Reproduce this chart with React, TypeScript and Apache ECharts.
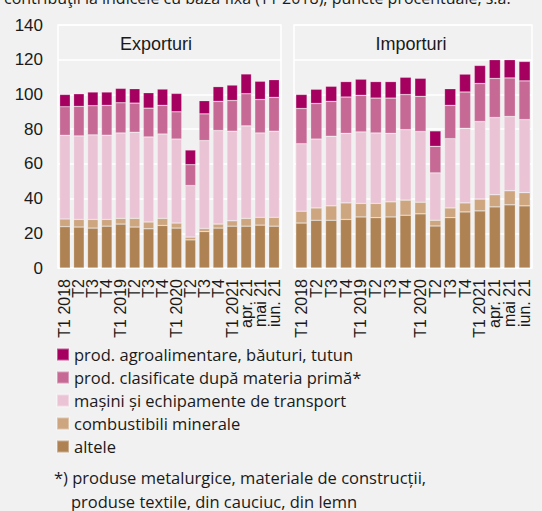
import React, { useEffect, useRef } from "react";
import * as echarts from "echarts";

const tickLabels = ["T1 2018", "T2", "T3", "T4", "T1 2019", "T2", "T3", "T4", "T1 2020", "T2", "T3", "T4", "T1 2021", "apr. 21", "mai 21", "iun. 21"];
const yTicks = [0, 20, 40, 60, 80, 100, 120, 140];

const seriesNames = [
  "altele",
  "combustibili minerale",
  "mașini și echipamente de transport",
  "prod. clasificate după materia primă*",
  "prod. agroalimentare, băuturi, tutun",
];
const legendOrder = [
  "prod. agroalimentare, băuturi, tutun",
  "prod. clasificate după materia primă*",
  "mașini și echipamente de transport",
  "combustibili minerale",
  "altele",
];
const colors = ["#ae8252", "#cda57f", "#eac4d5", "#c66a95", "#a5005f"];

// Exporturi
const expAltele = [23.8, 23.6, 23.0, 24.1, 25.3, 23.6, 22.6, 24.5, 23.0, 16.2, 21.0, 23.0, 24.1, 24.1, 24.7, 24.1];
const expComb = [4.4, 4.4, 5.0, 3.9, 3.3, 5.0, 3.9, 4.1, 2.9, 1.6, 1.8, 2.3, 3.1, 4.5, 4.5, 5.1];
const expMasini = [48.3, 48.1, 48.7, 48.5, 49.2, 49.6, 49.0, 48.6, 48.4, 29.7, 50.6, 53.9, 51.6, 53.3, 48.6, 49.6];
const expClas = [16.4, 17.0, 16.8, 17.2, 17.4, 16.8, 16.6, 16.5, 15.7, 12.0, 15.4, 16.8, 17.7, 18.5, 19.3, 19.5];
const expAgro = [7.1, 7.3, 7.9, 7.7, 8.3, 8.3, 8.9, 9.4, 10.6, 8.5, 7.6, 8.5, 8.9, 11.4, 10.5, 10.2];

// Importuri
const impAltele = [25.9, 27.5, 27.5, 28.0, 29.4, 29.0, 29.4, 30.4, 31.2, 24.2, 29.0, 32.3, 32.9, 35.2, 36.4, 35.8];
const impComb = [6.8, 7.1, 8.3, 9.5, 7.8, 8.2, 8.7, 8.7, 6.7, 3.3, 5.6, 5.2, 6.8, 7.0, 8.1, 7.6];
const impMasini = [38.9, 39.7, 40.1, 40.1, 41.2, 40.6, 39.5, 40.6, 40.7, 27.3, 39.9, 43.0, 44.7, 44.5, 42.8, 42.1];
const impClas = [20.3, 20.5, 20.1, 20.9, 21.1, 20.1, 20.3, 20.2, 20.3, 15.3, 19.2, 20.9, 21.9, 22.5, 22.2, 22.3];
const impAgro = [8.1, 8.2, 8.7, 8.9, 9.3, 9.5, 9.5, 10.0, 10.4, 8.9, 9.6, 10.3, 10.4, 10.8, 10.5, 11.2];

const expData = [expAltele, expComb, expMasini, expClas, expAgro];
const impData = [impAltele, impComb, impMasini, impClas, impAgro];

const NARROW = "'Liberation Sans Narrow', 'Liberation Sans', sans-serif";
const REG = "'Open Sans', 'Noto Sans', sans-serif";
const TXT = "#1a1a1a";

export default function App() {
  const ref = useRef<HTMLDivElement>(null);
  useEffect(() => {
    if (!ref.current) return;
    const chart = echarts.init(ref.current, null, { renderer: "svg" });
    const makeX = (gi: number) => ({
      type: "category",
      gridIndex: gi,
      data: tickLabels,
      axisLine: { show: false },
      axisTick: { show: false },
      axisLabel: {
        interval: 0,
        rotate: 90,
        margin: 11,
        fontFamily: NARROW,
        fontSize: 16,
        color: TXT,
      },
    });
    const makeY = (gi: number, showLabel: boolean) => ({
      type: "value",
      gridIndex: gi,
      min: 0,
      max: 140,
      interval: 20,
      axisLine: { show: false },
      axisTick: { show: false },
      axisLabel: {
        show: showLabel,
        margin: 15,
        fontFamily: NARROW,
        fontSize: 17,
        color: TXT,
        formatter: (v: number) => (yTicks.includes(v) ? String(v) : ""),
      },
      splitLine: { lineStyle: { color: "#ffffff", width: 1.5 } },
    });
    const makeSeries = (data: number[][], gi: number, stack: string) =>
      data.map((d, k) => ({
        name: seriesNames[k],
        type: "bar",
        stack,
        xAxisIndex: gi,
        yAxisIndex: gi,
        barCategoryGap: "24%",
        itemStyle: { color: colors[k], borderColor: "rgba(255,255,255,0.35)", borderWidth: 0.6 },
        data: d,
      }));

    chart.setOption({
      animation: false,
      backgroundColor: "#f1f1f1",
      color: colors,
      grid: [
        { left: 58, top: 25, width: 223, bottom: 243, show: true, borderColor: "#ffffff", borderWidth: 1.5, backgroundColor: "transparent" },
        { left: 294, top: 25, width: 238, bottom: 243, show: true, borderColor: "#ffffff", borderWidth: 1.5, backgroundColor: "transparent" },
      ],
      xAxis: [makeX(0), makeX(1)],
      yAxis: [makeY(0, true), makeY(1, false)],
      legend: {
        orient: "vertical",
        left: 56,
        top: 343,
        padding: 0,
        data: legendOrder,
        itemWidth: 12,
        itemHeight: 12,
        itemGap: 0,
        itemTextGap: 5,
        icon: "rect",
        textStyle: { fontFamily: REG, fontSize: 16.5, color: TXT, lineHeight: 23 },
      },
      graphic: [
        {
          type: "text",
          x: 4,
          y: 6,
          style: {
            text: "contribuţii la indicele cu bază fixă (T1 2018), puncte procentuale, s.a.",
            fontFamily: REG,
            fontSize: 16,
            fill: TXT,
            textVerticalAlign: "bottom",
          },
        },
        {
          type: "text",
          x: 156,
          y: 44,
          style: { text: "Exporturi", fontFamily: NARROW, fontSize: 18, fill: TXT, textAlign: "center", textVerticalAlign: "middle" },
        },
        {
          type: "text",
          x: 411,
          y: 44,
          style: { text: "Importuri", fontFamily: NARROW, fontSize: 18, fill: TXT, textAlign: "center", textVerticalAlign: "middle" },
        },
        {
          type: "text",
          x: 54,
          y: 477,
          style: { text: "*) produse metalurgice, materiale de construcții,", fontFamily: REG, fontSize: 16.5, fill: TXT, textVerticalAlign: "middle" },
        },
        {
          type: "text",
          x: 71,
          y: 501,
          style: { text: "produse textile, din cauciuc, din lemn", fontFamily: REG, fontSize: 16.5, fill: TXT, textVerticalAlign: "middle" },
        },
      ],
      series: [...makeSeries(expData, 0, "exp"), ...makeSeries(impData, 1, "imp")],
    });
    return () => chart.dispose();
  }, []);
  return <div ref={ref} style={{ position: "fixed", left: 0, top: 0, width: 542, height: 511 }} />;
}
